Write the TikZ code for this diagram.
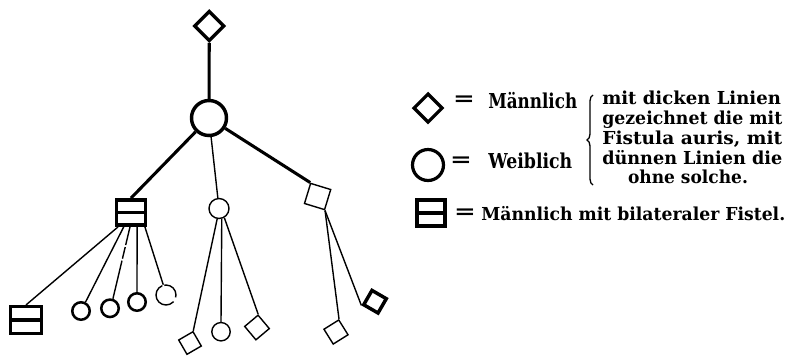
\documentclass[tikz,border=0pt]{standalone}
\usepackage{fontspec}
\setmainfont{DejaVu Serif}
\usetikzlibrary{decorations.pathreplacing}
\newcommand{\fitw}[2]{\resizebox{#1}{\height}{#2}}
\begin{document}
\begin{tikzpicture}[x=0.75pt,y=-0.75pt,
  thickline/.style={line width=2.3pt},
  thinline/.style={line width=1.05pt},
  fat/.style={line width=2.5pt},
  sq/.style={draw, rectangle, inner sep=0pt, minimum size=#1},
  rnd/.style={draw, circle, inner sep=0pt, minimum size=#1},
  bilat/.style 2 args={draw, rectangle, inner sep=0pt, line width=2.6pt,
    minimum width=#1, minimum height=#2,
    path picture={\draw[line width=2.4pt] (path picture bounding box.west) -- (path picture bounding box.east);}},
  bigtext/.style={inner sep=0pt, font=\fontsize{15.4}{18}\selectfont\bfseries},
  blocktext/.style={inner sep=0pt, font=\fontsize{13.4}{16}\selectfont\bfseries},
  eqsign/.style={inner sep=0pt, font=\fontsize{15}{18}\selectfont\bfseries}
]
\useasboundingbox (0,0) rectangle (788,355);

% ---------- pedigree ----------
\node[sq=15.4pt, rotate=45, fat] (td) at (209.3,26) {};
\node[rnd=26.25pt, line width=2.6pt] (bc) at (209,118) {};
\node[bilat={21.5pt}{19pt}] (bil) at (131,212.5) {};
\node[rnd=15pt, thinline] (mc) at (219,208.5) {};
\node[sq=15.75pt, rotate=-17, thinline] (rsq) at (317.6,196.5) {};

\node[bilat={23pt}{20pt}] (bb) at (26,320) {};
\node[rnd=13.1pt, line width=1.9pt] (c1) at (81,311) {};
\node[rnd=13.1pt, line width=1.9pt] (c2) at (110,308.3) {};
\node[rnd=13.1pt, line width=1.9pt] (c3) at (137,302) {};
\node[rnd=15pt, thinline, dash pattern=on 13pt off 1.5pt on 27pt off 3.5pt] (c4) at (166,295) {};

\node[sq=12.4pt, rotate=30, thinline] (d1) at (190,343) {};
\node[rnd=13.8pt, thinline] (mcc) at (221,331.7) {};
\node[sq=13.1pt, rotate=40, thinline] (d2) at (257,327.5) {};
\node[sq=13.1pt, rotate=32, thinline] (d3) at (336,332) {};
\node[sq=12.4pt, rotate=60, line width=2.6pt] (d4) at (375,301.7) {};

\draw[thickline] (td) -- (bc);
\draw[thickline] (bc) -- (bil.north);
\draw[thickline] (bc) -- (rsq.north west);
\draw[thinline] (bc) -- (mc);

\draw[thinline] (bil.-132) -- (bb.north);
\draw[thinline] (bil) -- (c1);
\draw[thinline, dash pattern=on 14pt off 1.5pt on 9pt off 1.5pt on 40pt off 0pt] (bil.-94) -- (c2.73);
\draw[thinline] (bil.-67) -- (c3.north);
\draw[thinline] (bil.-46) -- (c4.105);

\draw[thinline] (mc.-100) -- (d1.north east);
\draw[thinline] (mc.-75) -- (mcc.north);
\draw[thinline] (mc.-60) -- (d2.north east);

\draw[thinline] (rsq.south east) -- (d3.north east);
\draw[thinline] (rsq.south east) -- (d4.north west);

% ---------- legend ----------
\node[sq=14.85pt, rotate=45, line width=2.4pt] (ld) at (428,108) {};
\node[eqsign] (eq1) at (464,101) {\scalebox{1.3}[1]{=}};
\node[bigtext, anchor=base west] (lm) at (488,108) {\fitw{66.75pt}{Männlich}};

\node[rnd=23.25pt, line width=2.4pt] (lc) at (428,165) {};
\node[eqsign] (eq2) at (461,162) {\scalebox{1.3}[1]{=}};
\node[bigtext, anchor=base west] (lw) at (488,168) {\fitw{63pt}{Weiblich}};

\coordinate (braceb) at (593,185);
\coordinate (bracet) at (593,95);
\draw[decorate, decoration={brace, amplitude=4.5pt}, line width=1pt] (braceb) -- (bracet);

\node[blocktext, anchor=base west] (t1) at (602,104) {\fitw{134pt}{mit dicken Linien}};
\node[blocktext, anchor=base west] (t2) at (602,124) {\fitw{135pt}{gezeichnet die mit}};
\node[blocktext, anchor=base west] (t3) at (602,144) {\fitw{135pt}{Fistula auris, mit}};
\node[blocktext, anchor=base west] (t4) at (602,164) {\fitw{135pt}{dünnen Linien die}};
\node[blocktext, anchor=base] (t5) at (688,183) {\fitw{90pt}{ohne solche.}};

\node[bilat={21pt}{19.5pt}] (lb) at (431,213) {};
\node[eqsign] (eq3) at (465,214) {\scalebox{1.3}[1]{=}};
\node[blocktext, anchor=base west] (t6) at (481,220) {\fitw{228pt}{Männlich mit bilateraler Fistel.}};
\end{tikzpicture}
\end{document}
